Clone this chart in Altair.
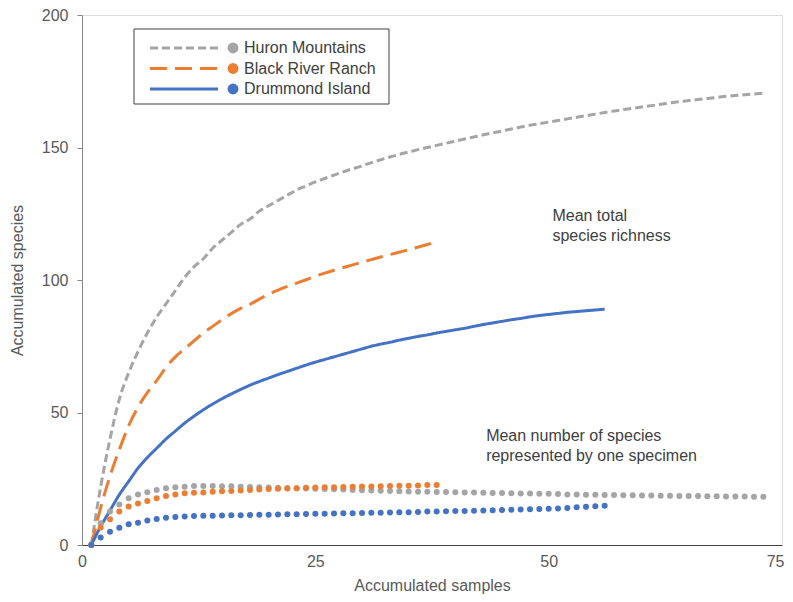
import altair as alt
import pandas as pd

# ---- data ----
series_names = ["Huron Mountains", "Black River Ranch", "Drummond Island"]
series_colors = ["#A5A5A5", "#ED7D31", "#4472C4"]
series_dashes = [[8, 4], [17, 8], [1, 0]]

# Mean total species richness (lines), sample 1..n
huron_total = [0, 22, 40, 55, 65, 73, 80, 86, 91, 96, 101, 105, 108, 112, 115, 118, 121, 123,
               126, 128, 130, 132, 134, 135.5, 137, 138.3, 139.6, 140.8, 142, 143, 144.3, 145.4,
               146.4, 147.4, 148.3, 149.2, 150, 150.8, 151.6, 152.4, 153.2, 154, 154.8, 155.5,
               156.2, 157, 157.7, 158.4, 159, 159.6, 160.2, 160.8, 161.4, 162, 162.6, 163.2, 163.8,
               164.3, 164.8, 165.3, 165.8, 166.3, 166.8, 167.3, 167.7, 168.1, 168.5, 168.9, 169.3,
               169.6, 169.9, 170.2, 170.5]
black_total = [0, 14, 26, 36, 45, 52, 57.5, 62, 67, 71, 74, 77, 80, 82.5, 85, 87.3, 89.3, 90.8,
               92.8, 94.6, 96.2, 97.6, 98.8, 100.1, 101.4, 102.6, 103.7, 104.7, 105.7, 106.7,
               107.7, 108.7, 109.6, 110.5, 111.4, 112.4, 113.4, 114.5]
drummond_total = [0, 7, 13, 19, 24, 29, 33, 36.5, 40, 43, 46, 48.6, 51, 53.2, 55.2, 57, 58.7,
                  60.3, 61.7, 63, 64.3, 65.5, 66.7, 67.9, 69, 70, 71, 72, 73, 74, 75, 75.8, 76.5,
                  77.3, 78, 78.7, 79.3, 80, 80.6, 81.2, 81.8, 82.5, 83.2, 83.8, 84.4, 85, 85.5,
                  86.1, 86.6, 87, 87.4, 87.8, 88.1, 88.4, 88.7, 89]

# Mean number of species represented by one specimen (dots)
huron_single = [0, 8.2, 12.6, 15.3, 17.6, 19.1, 19.9, 20.8, 21.4, 21.8, 22.0, 22.3, 22.3, 22.3,
                22.2, 22.2, 22.0, 21.9, 21.8, 21.7, 21.6, 21.5, 21.4, 21.3, 21.2, 21.1, 21.0,
                20.9, 20.8, 20.7, 20.6, 20.5, 20.4, 20.3, 20.2, 20.1, 20.1, 20.0, 20.0, 19.9,
                19.8, 19.8, 19.7, 19.6, 19.6, 19.5, 19.4, 19.4, 19.3, 19.3, 19.2, 19.1, 19.1,
                19.0, 19.0, 18.9, 18.9, 18.8, 18.8, 18.7, 18.7, 18.6, 18.6, 18.5, 18.5, 18.5,
                18.4, 18.4, 18.3, 18.3, 18.3, 18.2, 18.2]
black_single = [0, 6.6, 9.7, 12.6, 14.5, 15.7, 16.6, 17.6, 18.5, 19.1, 19.5, 19.7, 19.8, 20.1,
                20.3, 20.4, 20.6, 20.8, 20.9, 21.1, 21.2, 21.3, 21.4, 21.6, 21.7, 21.8, 21.8,
                21.9, 22.0, 22.1, 22.1, 22.2, 22.3, 22.4, 22.4, 22.5, 22.6, 22.6]
drummond_single = [0, 2.8, 5.0, 6.5, 7.8, 8.4, 9.2, 9.8, 10.3, 10.6, 10.8, 10.9, 11.0, 11.0,
                   11.1, 11.2, 11.2, 11.3, 11.4, 11.4, 11.5, 11.6, 11.6, 11.7, 11.8, 11.8, 11.9,
                   12.0, 12.0, 12.1, 12.2, 12.2, 12.3, 12.4, 12.4, 12.5, 12.6, 12.6, 12.7, 12.8,
                   12.8, 12.9, 13.0, 13.1, 13.2, 13.3, 13.4, 13.5, 13.6, 13.7, 13.8, 14.0, 14.2,
                   14.4, 14.6, 14.8]

x_ticks = [0, 25, 50, 75]
y_ticks = [0, 50, 100, 150, 200]

annotations = ["Mean total\nspecies richness", "Mean number of species\nrepresented by one specimen"]
annot_x = [50.4, 43.3]
annot_y = [127, 44]

# ---- build tables ----
def frame(values, name):
    return pd.DataFrame({"sample": list(range(1, len(values) + 1)), "value": values, "site": name})

lines_df = pd.concat([frame(huron_total, series_names[0]),
                      frame(black_total, series_names[1]),
                      frame(drummond_total, series_names[2])])
dots_df = pd.concat([frame(huron_single, series_names[0]),
                     frame(black_single, series_names[1]),
                     frame(drummond_single, series_names[2])])
order_map = {n: i for i, n in enumerate(series_names)}
dots_df["ord"] = dots_df["site"].map(order_map)

FONT = "Liberation Sans"
TXT = "#595959"
last_x = x_ticks[-1]

xscale = alt.Scale(domain=[0, 75], nice=False)
yscale = alt.Scale(domain=[0, 200], nice=False)
color_scale = alt.Scale(domain=series_names, range=series_colors)
dash_scale = alt.Scale(domain=series_names, range=series_dashes)

x_enc = alt.X("sample:Q", scale=xscale,
              axis=alt.Axis(title="Accumulated samples", values=x_ticks, grid=False, ticks=False,
                            labelFlush=False,
                            labelAlign=alt.ExprRef(f"datum.value === {last_x} ? 'right' : 'center'"),
                            labelOffset=alt.ExprRef(f"datum.value === {last_x} ? 2 : 0"),
                            domainColor="#404040", labelColor=TXT, titleColor=TXT,
                            labelFont=FONT, titleFont=FONT, labelFontSize=16, titleFontSize=16,
                            titleFontWeight="normal", labelPadding=8, titlePadding=8))
y_enc = alt.Y("value:Q", scale=yscale,
              axis=alt.Axis(title="Accumulated species", values=y_ticks, grid=False,
                            labelFlush=False,
                            domainColor="#868686", tickColor="#868686", tickSize=5,
                            labelColor=TXT, titleColor=TXT, labelFont=FONT, titleFont=FONT,
                            labelFontSize=16, titleFontSize=16, titleFontWeight="normal",
                            labelPadding=9, titlePadding=16))

lines = alt.Chart(lines_df).mark_line(strokeWidth=3, interpolate="monotone").encode(
    x=x_enc, y=y_enc,
    color=alt.Color("site:N", scale=color_scale, legend=None),
    strokeDash=alt.StrokeDash("site:N", scale=dash_scale, legend=None),
    detail="site:N",
)

dots = alt.Chart(dots_df).mark_circle(size=36, opacity=1).encode(
    x=alt.X("sample:Q", scale=xscale),
    y=alt.Y("value:Q", scale=yscale),
    color=alt.Color("site:N", scale=color_scale, legend=None),
    order=alt.Order("ord:Q"),
)

annot_df = pd.DataFrame({"text": annotations, "x": annot_x, "y": annot_y})
annot = alt.Chart(annot_df).mark_text(align="left", baseline="top", font=FONT, fontSize=16,
                                      color="#404040", lineBreak="\n", lineHeight=20).encode(
    x=alt.X("x:Q", scale=xscale), y=alt.Y("y:Q", scale=yscale), text="text:N")

# ---- custom legend (pixel positions inside the plot area) ----
leg_top, leg_step = 33, 20.5
leg_df = pd.DataFrame({"site": series_names})
leg_df["py"] = [leg_top + i * leg_step for i in range(len(series_names))]

leg_box = alt.Chart(pd.DataFrame({"a": [0]})).mark_rect(
    fill="white", stroke="#404040", strokeWidth=1).encode(
    x=alt.value(52), x2=alt.value(307), y=alt.value(14), y2=alt.value(89))
leg_lines = alt.Chart(leg_df).mark_rule(strokeWidth=3).encode(
    x=alt.value(68), x2=alt.value(136),
    y=alt.Y("py:Q", scale=None),
    color=alt.Color("site:N", scale=color_scale, legend=None),
    strokeDash=alt.StrokeDash("site:N", scale=dash_scale, legend=None),
)
leg_pts = alt.Chart(leg_df).mark_circle(size=120, opacity=1).encode(
    x=alt.value(151), y=alt.Y("py:Q", scale=None),
    color=alt.Color("site:N", scale=color_scale, legend=None),
)
leg_txt = alt.Chart(leg_df).mark_text(align="left", baseline="middle", font=FONT, fontSize=16,
                                      color="#404040").encode(
    x=alt.value(162), y=alt.Y("py:Q", scale=None), text="site:N")

chart = alt.layer(lines, dots, annot, leg_box, leg_lines, leg_pts, leg_txt).properties(
    width=700, height=530,
    padding={"left": 74, "top": 7, "right": 3, "bottom": 49},
    autosize=alt.AutoSizeParams(type="none"),
).configure_view(stroke=None).configure(background="white")

chart.save("out.html", embed_options={"renderer": "svg", "actions": False})
